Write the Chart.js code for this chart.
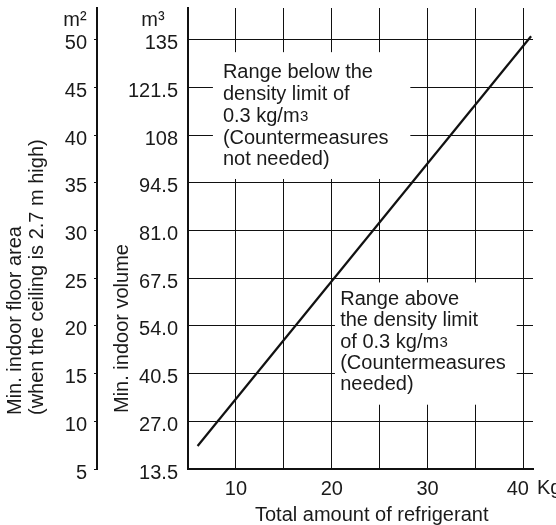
<!DOCTYPE html>
<html>
<head>
<meta charset="utf-8">
<script src="https://cdn.jsdelivr.net/npm/chart.js@4.4.0/dist/chart.umd.min.js"></script>
<style>
  html, body { margin: 0; padding: 0; background: #fff; }
  #wrap { width: 556px; height: 525px; }
</style>
</head>
<body>
<div id="wrap"><canvas id="myChart"></canvas></div>
<script>
// values
const kgTicks = [5, 10, 15, 20, 25, 30, 35, 40];
const kgLabels = ['', '10', '', '20', '', '30', '', '40'];
const volumeTicks = [13.5, 27, 40.5, 54, 67.5, 81, 94.5, 108, 121.5, 135];
const volumeLabels = ['13.5', '27.0', '40.5', '54.0', '67.5', '81.0', '94.5', '108', '121.5', '135'];
const areaTicks = [5, 10, 15, 20, 25, 30, 35, 40, 45, 50];
const areaLabels = ['5', '10', '15', '20', '25', '30', '35', '40', '45', '50'];
const refrigerantKg = [6, 40.8];
const minVolume = [20, 136];
const noteBelow = ['Range below the', 'density limit of', '0.3 kg/m3', '(Countermeasures', 'not needed)'];
const noteAbove = ['Range above', 'the density limit', 'of 0.3 kg/m3', '(Countermeasures', 'needed)'];

const FONT = "'Liberation Sans', Arial, sans-serif";
const INK = '#1a1a1a';
const CEILING = 2.7;
const VOL_MIN = 13.5, VOL_MAX = 144;

function drawNoteLine(ctx, text, x, y) {
  // the "3" of m3 is set smaller
  if (text.endsWith('m3')) {
    const head = text.slice(0, -1);
    ctx.font = '20px ' + FONT;
    ctx.fillText(head, x, y);
    const w = ctx.measureText(head).width;
    ctx.font = '15px ' + FONT;
    ctx.fillText('3', x + w + 0.5, y - 1);
  } else {
    ctx.font = '20px ' + FONT;
    ctx.fillText(text, x, y);
  }
}

function rotatedText(ctx, text, x, y) {
  ctx.save();
  ctx.translate(x, y);
  ctx.rotate(-Math.PI / 2);
  ctx.textAlign = 'left';
  ctx.fillText(text, 0, 0);
  ctx.restore();
}

const notesPlugin = {
  id: 'notes',
  beforeDatasetsDraw(chart) {
    const { ctx, scales: { x, y } } = chart;
    // white patches behind the two notes
    const patches = [[7.6, 131.5, 28.2, 95.6], [20.33, 66.3, 39.3, 31.7]];
    ctx.save();
    ctx.fillStyle = '#fff';
    patches.forEach(([x0, y0, x1, y1]) => {
      const l = x.getPixelForValue(x0), r = x.getPixelForValue(x1);
      const t = y.getPixelForValue(y0), b = y.getPixelForValue(y1);
      ctx.fillRect(l, t, r - l, b - t);
    });
    ctx.restore();
  },
  afterDatasetsDraw(chart) {
    const { ctx, chartArea, scales: { x, y, y2 } } = chart;
    ctx.save();
    ctx.fillStyle = INK;
    ctx.textBaseline = 'alphabetic';
    ctx.textAlign = 'left';
    noteBelow.forEach((t, i) => drawNoteLine(ctx, t, x.getPixelForValue(8.64), y.getPixelForValue(124.1) + i * 21.8));
    noteAbove.forEach((t, i) => drawNoteLine(ctx, t, x.getPixelForValue(20.88), y.getPixelForValue(59.9) + i * 21.3));

    ctx.font = '20px ' + FONT;
    // axis titles
    rotatedText(ctx, 'Min. indoor floor area', y2.left + 21, chartArea.bottom - 54);
    rotatedText(ctx, '(when the ceiling is 2.7 m high)', y2.left + 42.5, chartArea.bottom - 54);
    rotatedText(ctx, 'Min. indoor volume', y.left + 30.5, chartArea.bottom - 56);
    ctx.fillText('Total amount of refrigerant', chartArea.left + 67, chartArea.bottom + 52);
    ctx.fillText('Kg', chartArea.right + 4, chartArea.bottom + 25);
    // units on top of the vertical axes
    ctx.textAlign = 'center';
    ctx.fillText('m\u00b2', y2.right - 22, chartArea.top + 18);
    ctx.fillText('m\u00b3', y.left + 56, chartArea.top + 18);
    ctx.restore();
  }
};

const tickFont = { family: FONT, size: 20 };

const config = {
  type: 'scatter',
  data: {
    datasets: [{
      data: refrigerantKg.map((kg, i) => ({ x: kg, y: minVolume[i] })),
      showLine: true,
      borderColor: '#111',
      borderWidth: 2.2,
      pointRadius: 0,
      fill: false,
    }],
  },
  options: {
    responsive: true,
    maintainAspectRatio: false,
    animation: false,
    layout: { padding: { left: 0, top: 8, right: 23, bottom: 0 } },
    plugins: {
      legend: { display: false },
      tooltip: { enabled: false },
    },
    scales: {
      x: {
        type: 'linear',
        min: 5,
        max: 41,
        afterBuildTicks: (scale) => { scale.ticks = kgTicks.map((v) => ({ value: v })); },
        afterFit: (scale) => { scale.height = 56; scale.paddingLeft = 0; scale.paddingRight = 0; },
        ticks: {
          font: tickFont,
          color: INK,
          padding: 8,
          maxRotation: 0,
          autoSkip: false,
          // the last label sits a little left, next to "Kg"
          callback: (v, i) => (i === kgLabels.length - 1 ? kgLabels[i] + '\u00a0\u00a0' : kgLabels[i]),
        },
        grid: { color: '#111', lineWidth: 1, drawTicks: false },
        border: { color: '#111', width: 2 },
      },
      y: {
        type: 'linear',
        position: 'left',
        weight: 0,
        min: VOL_MIN,
        max: VOL_MAX,
        afterBuildTicks: (scale) => { scale.ticks = volumeTicks.map((v) => ({ value: v })); },
        afterFit: (scale) => { scale.width = 91; scale.paddingTop = 0; scale.paddingBottom = 0; },
        ticks: {
          font: tickFont,
          color: INK,
          padding: 10,
          labelOffset: 4,
          autoSkip: false,
          callback: (v, i) => volumeLabels[i],
        },
        grid: { color: '#111', lineWidth: 1, drawTicks: false },
        border: { color: '#111', width: 2 },
      },
      y2: {
        type: 'linear',
        position: 'left',
        weight: 1,
        min: VOL_MIN / CEILING,
        max: VOL_MAX / CEILING,
        afterBuildTicks: (scale) => { scale.ticks = areaTicks.map((v) => ({ value: v })); },
        afterFit: (scale) => { scale.width = 97; scale.paddingTop = 0; scale.paddingBottom = 0; },
        ticks: {
          font: tickFont,
          color: INK,
          padding: 7,
          labelOffset: 4,
          autoSkip: false,
          callback: (v, i) => areaLabels[i],
        },
        grid: { drawOnChartArea: false, color: '#111', tickColor: '#111', tickLength: 3, lineWidth: 1 },
        border: { color: '#111', width: 2 },
      },
    },
  },
  plugins: [notesPlugin],
};

const chart = new Chart(document.getElementById('myChart'), config);
</script>
</body>
</html>
